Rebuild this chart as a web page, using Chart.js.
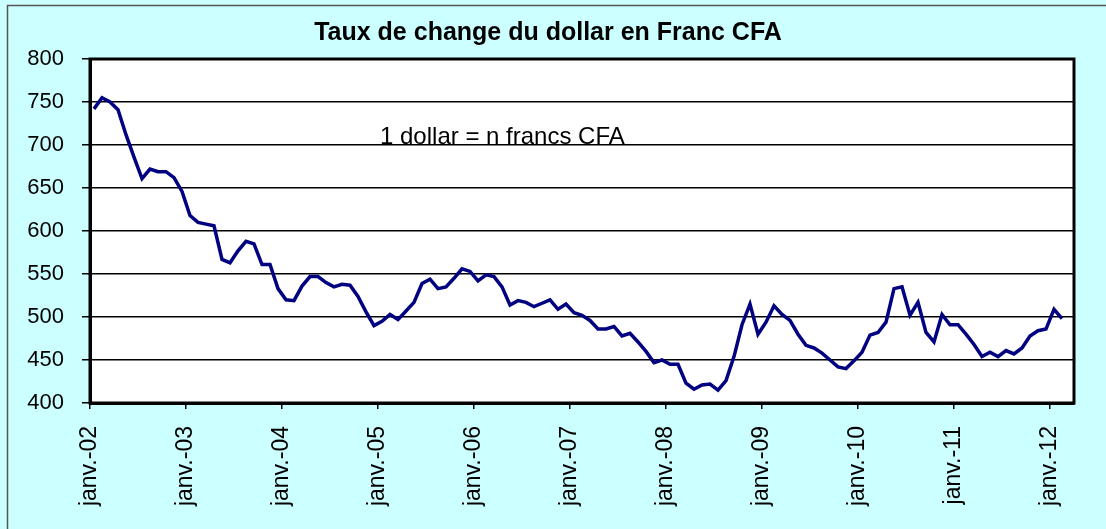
<!DOCTYPE html>
<html>
<head>
<meta charset="utf-8">
<script src="https://cdn.jsdelivr.net/npm/chart.js@4.4.1/dist/chart.umd.min.js"></script>
<style>
  body { margin: 0; background: #ccffff; }
  canvas { display: block; }
</style>
</head>
<body>
<canvas id="chart" width="1106" height="529"></canvas>
<script>
// months shown on the axis, janv.-02 .. mars-12
const monthNames = ['janv.', 'févr.', 'mars', 'avr.', 'mai', 'juin', 'juil.', 'août', 'sept.', 'oct.', 'nov.', 'déc.'];
const years = ['02', '03', '04', '05', '06', '07', '08', '09', '10', '11', '12'];

// 1 dollar in francs CFA, monthly
const rate2002 = [742, 755, 750, 741, 712, 686, 661, 672, 669, 669, 662, 646];
const rate2003 = [618, 610, 608, 606, 567, 563, 577, 588, 585, 561, 561, 533];
const rate2004 = [520, 519, 536, 547, 547, 540, 535, 538, 537, 524, 506, 490];
const rate2005 = [495, 503, 497, 507, 517, 539, 544, 533, 535, 545, 556, 553];
const rate2006 = [542, 549, 547, 535, 514, 519, 517, 512, 516, 520, 509, 515];
const rate2007 = [505, 502, 496, 486, 486, 489, 478, 481, 471, 460, 447, 450];
const rate2008 = [445, 445, 423, 416, 421, 422, 415, 426, 454, 491, 515, 480];
const rate2009 = [494, 513, 503, 496, 480, 467, 464, 458, 450, 442, 440, 449];
const rate2010 = [459, 479, 482, 494, 533, 535, 502, 517, 482, 471, 503, 491];
const rate2011 = [491, 480, 468, 454, 459, 454, 461, 457, 464, 478, 484, 486];
const rate2012 = [509, 498, null];

const yTicks = [400, 450, 500, 550, 600, 650, 700, 750, 800];

const labels = [];
years.forEach(y => {
  monthNames.forEach(m => {
    if (labels.length < 123) labels.push(m + '-' + y);
  });
});
const rates = [].concat(rate2002, rate2003, rate2004, rate2005, rate2006, rate2007,
  rate2008, rate2009, rate2010, rate2011, rate2012);

const FONT = '"Liberation Sans", Arial, sans-serif';
Chart.defaults.font.family = FONT;
Chart.defaults.color = '#000';

// cyan background, white plot area, frames, title and the free text
const decor = {
  id: 'decor',
  beforeDraw(chart) {
    const c = chart.ctx, a = chart.chartArea;
    c.save();
    c.fillStyle = '#ccffff';
    c.fillRect(0, 0, chart.width, chart.height);
    c.strokeStyle = '#555';
    c.lineWidth = 1.5;
    c.strokeRect(7.5, 5.5, 1200, 600);
    c.fillStyle = '#fff';
    c.fillRect(a.left, a.top, a.right - a.left, a.bottom - a.top);
    c.restore();
  },
  afterDraw(chart) {
    const c = chart.ctx, a = chart.chartArea;
    c.save();
    c.strokeStyle = '#000';
    c.lineWidth = 3;
    c.strokeRect(a.left, a.top, a.right - a.left, a.bottom - a.top);
    c.fillStyle = '#000';
    c.textBaseline = 'middle';
    c.textAlign = 'center';
    c.font = 'bold 25px ' + FONT;
    c.fillText('Taux de change du dollar en Franc CFA', 548, 33);
    c.textAlign = 'left';
    c.font = '24px ' + FONT;
    c.fillText('1 dollar = n francs CFA', 380, 137);
    c.restore();
  }
};

var ctx = document.getElementById('chart').getContext('2d');
var chart = new Chart(ctx, {
  type: 'line',
  data: {
    labels: labels,
    datasets: [{
      data: rates,
      borderColor: '#000080',
      borderWidth: 3.5,
      pointRadius: 0,
      tension: 0,
      spanGaps: false
    }]
  },
  options: {
    responsive: false,
    animation: false,
    layout: { padding: { left: 0, right: 32, top: 59, bottom: 0 } },
    plugins: {
      legend: { display: false },
      tooltip: { enabled: false },
      title: { display: false }
    },
    scales: {
      x: {
        offset: true,
        grid: {
          offset: true,
          drawOnChartArea: false,
          tickLength: 6,
          lineWidth: 1.5,
          color: c => (c.index % 12 === 0 ? '#000' : 'rgba(0,0,0,0)')
        },
        border: { display: true, color: '#000', width: 3 },
        ticks: {
          autoSkip: false,
          maxRotation: 90,
          minRotation: 90,
          padding: 17,
          labelOffset: -4,
          font: { size: 23 },
          callback: (v, i) => (i % 12 === 0 ? labels[i] : '')
        },
        afterFit: s => {
          s.height = 126;
          s.paddingLeft = 0;
          s.paddingRight = 0;
        }
      },
      y: {
        min: 400,
        max: 800,
        afterBuildTicks: s => { s.ticks = yTicks.map(v => ({ value: v })); },
        grid: { color: '#000', lineWidth: 1.5, tickLength: 8 },
        border: { display: true, color: '#000', width: 3 },
        ticks: { padding: 18, font: { size: 22 } },
        afterFit: s => { s.width = 90; }
      }
    }
  },
  plugins: [decor]
});
</script>
</body>
</html>
